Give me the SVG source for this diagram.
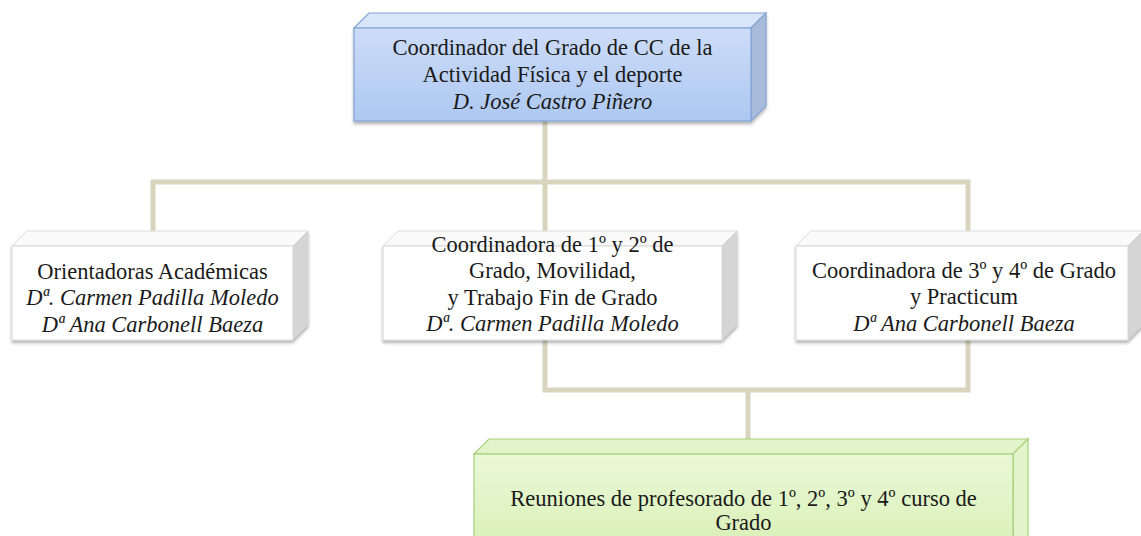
<svg xmlns="http://www.w3.org/2000/svg" width="1141" height="536" viewBox="0 0 1141 536">
<defs>
<linearGradient id="gBlue" x1="0" y1="0" x2="0" y2="1"><stop offset="0" stop-color="#cddcf8"/><stop offset="1" stop-color="#adc8f1"/></linearGradient>
<linearGradient id="gGreen" x1="0" y1="0" x2="0" y2="1"><stop offset="0" stop-color="#eaf8d6"/><stop offset="1" stop-color="#d8f0b6"/></linearGradient>
<filter id="sh" x="-5%" y="-5%" width="110%" height="120%"><feDropShadow dx="0" dy="2.5" stdDeviation="1.5" flood-color="#000" flood-opacity="0.3"/></filter>
<style>
.t{font-family:"Liberation Serif","Times New Roman",serif;font-size:22.5px;fill:#1a1a1a;text-anchor:middle}
.i{font-style:italic}
.con{fill:none;stroke:#d9d4bd;stroke-width:5}
.wf{fill:#ffffff;stroke:#d6d6d6;stroke-width:1}
.wt{fill:#fafafa;stroke:#dedede;stroke-width:1}
.ws{fill:#d5d5d5;stroke:#d0d0d0;stroke-width:1}
.bf{fill:url(#gBlue);stroke:#84a4d6;stroke-width:1.2}
.bt{fill:#d9e5fa;stroke:#84a4d6;stroke-width:1.2}
.bs{fill:#a9bbda;stroke:#84a4d6;stroke-width:1.2}
.gf{fill:url(#gGreen);stroke:#a6d17c;stroke-width:1.2}
.gt{fill:#e3f4cb;stroke:#a6d17c;stroke-width:1.2}
</style>
</defs>
<rect width="1141" height="536" fill="#ffffff"/>
<g id="connectors">
<path class="con" d="M545 121 V246 M153 246 V182 H968 V246 M545 340 V390 H968 V340 M748 390 V454"/>
</g>
<g id="n-top">
<g filter="url(#sh)">
<polygon class="bt" points="354,28 369,13 766,13 751,28"/>
<polygon class="bs" points="751,28 766,13 766,106 751,121"/>
<rect class="bf" x="354" y="28" width="397" height="93"/>
</g>
<text class="t" x="552.5" y="55">Coordinador del Grado de CC de la</text>
<text class="t" x="552.5" y="82">Actividad Física y el deporte</text>
<text class="t i" x="552.5" y="109">D. José Castro Piñero</text>
</g>
<g id="n-left">
<g filter="url(#sh)">
<polygon class="wt" points="12,246 27,231 308,231 293,246"/>
<polygon class="ws" points="293,246 308,231 308,325 293,340"/>
<rect class="wf" x="12" y="246" width="281" height="94"/>
</g>
<text class="t" x="152.5" y="279">Orientadoras Académicas</text>
<text class="t i" x="152.5" y="305">Dª. Carmen Padilla Moledo</text>
<text class="t i" x="152.5" y="332">Dª Ana Carbonell Baeza</text>
</g>
<g id="n-mid">
<g filter="url(#sh)">
<polygon class="wt" points="383,246 398,231 737,231 722,246"/>
<polygon class="ws" points="722,246 737,231 737,325 722,340"/>
<rect class="wf" x="383" y="246" width="339" height="94"/>
</g>
<text class="t" x="552.5" y="252">Coordinadora de 1º y 2º de</text>
<text class="t" x="552.5" y="278">Grado, Movilidad,</text>
<text class="t" x="552.5" y="305">y Trabajo Fin de Grado</text>
<text class="t i" x="552.5" y="331">Dª. Carmen Padilla Moledo</text>
</g>
<g id="n-right">
<g filter="url(#sh)">
<polygon class="wt" points="796,246 811,231 1143,231 1128,246"/>
<polygon class="ws" points="1128,246 1143,231 1143,325 1128,340"/>
<rect class="wf" x="796" y="246" width="332" height="94"/>
</g>
<text class="t" x="964" y="278">Coordinadora de 3º y 4º de Grado</text>
<text class="t" x="964" y="304">y Practicum</text>
<text class="t i" x="964" y="331">Dª Ana Carbonell Baeza</text>
</g>
<g id="n-green">
<polygon class="gt" points="474,454 489,439 1028,439 1013,454"/>
<polygon class="gt" points="1013,454 1028,439 1028,540 1013,540"/>
<rect class="gf" x="474" y="454" width="539" height="100"/>
<text class="t" x="743.5" y="506">Reuniones de profesorado de 1º, 2º, 3º y 4º curso de</text>
<text class="t" x="743.5" y="530">Grado</text>
</g>
</svg>
